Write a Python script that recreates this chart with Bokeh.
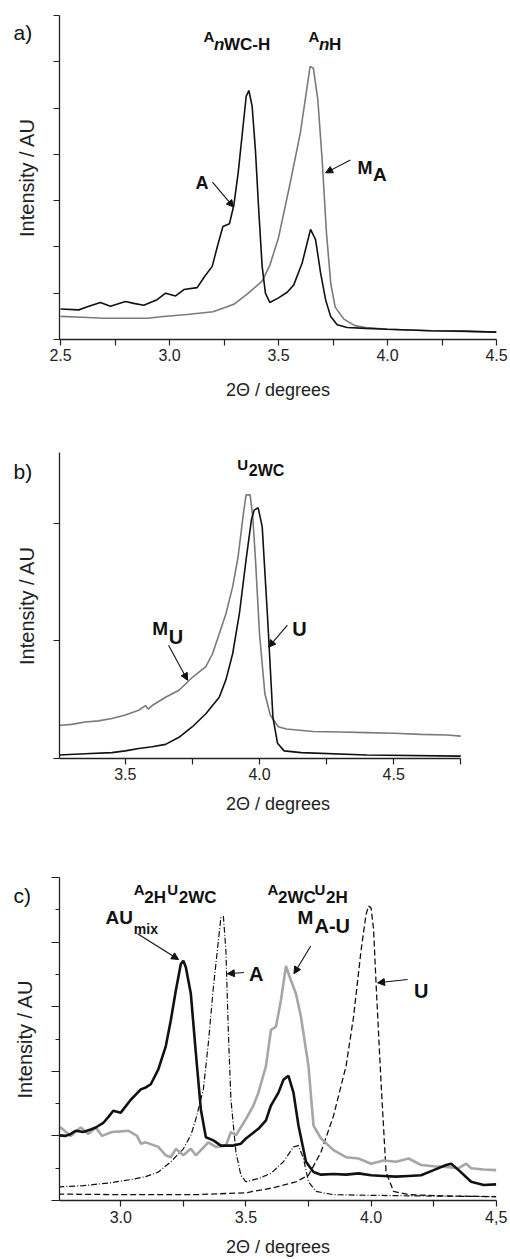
from bokeh.plotting import figure
from bokeh.layouts import column
from bokeh.models import (Label, Arrow, NormalHead, FixedTicker,
                          CustomJSTickFormatter, PrintfTickFormatter, Range1d)
from bokeh.embed import file_html
from bokeh.resources import INLINE

# ---------------- data ----------------
# panel a
a_x_A = [2.500, 2.584, 2.620, 2.683, 2.729, 2.798, 2.836, 2.882, 2.943, 2.982, 3.028, 3.066,
         3.127, 3.161, 3.196, 3.219, 3.245, 3.275, 3.295, 3.315, 3.335, 3.352, 3.364, 3.379,
         3.394, 3.410, 3.425, 3.440, 3.460, 3.500, 3.540, 3.570, 3.609, 3.631, 3.647, 3.670,
         3.693, 3.716, 3.739, 3.769, 3.815, 3.900, 4.000, 4.200, 4.350, 4.500]
a_y_A = [0.33, 0.32, 0.35, 0.40, 0.36, 0.41, 0.39, 0.37, 0.43, 0.50, 0.47, 0.54,
         0.56, 0.68, 0.79, 1.00, 1.22, 1.25, 1.45, 1.80, 2.25, 2.63, 2.69, 2.52,
         2.05, 1.37, 0.79, 0.50, 0.40, 0.45, 0.51, 0.59, 0.83, 1.04, 1.19, 1.08,
         0.72, 0.43, 0.25, 0.16, 0.13, 0.12, 0.11, 0.095, 0.09, 0.08]
a_x_MA = [2.50, 2.60, 2.70, 2.80, 2.90, 2.96, 3.08, 3.20, 3.295, 3.356, 3.425, 3.46, 3.50,
          3.55, 3.60, 3.625, 3.645, 3.66, 3.68, 3.70, 3.72, 3.74, 3.76, 3.80, 3.85, 3.90,
          4.00, 4.20, 4.50]
a_y_MA = [0.25, 0.24, 0.23, 0.23, 0.23, 0.245, 0.27, 0.30, 0.38, 0.49, 0.63, 0.80, 1.10,
          1.65, 2.23, 2.63, 2.95, 2.93, 2.60, 1.95, 1.15, 0.60, 0.35, 0.22, 0.15, 0.13,
          0.11, 0.095, 0.08]

# panel b
b_x_U = [3.25, 3.35, 3.45, 3.50, 3.55, 3.60, 3.65, 3.70, 3.75, 3.80, 3.85, 3.875, 3.90,
         3.925, 3.95, 3.97, 3.98, 3.995, 4.01, 4.03, 4.05, 4.067, 4.092, 4.155, 4.40, 4.75]
b_y_U = [0.03, 0.04, 0.05, 0.065, 0.085, 0.10, 0.12, 0.18, 0.27, 0.38, 0.52, 0.67, 0.89,
         1.23, 1.69, 2.03, 2.11, 2.13, 1.97, 1.20, 0.35, 0.13, 0.065, 0.05, 0.03, 0.02]
b_x_MU = [3.25, 3.30, 3.35, 3.40, 3.45, 3.50, 3.55, 3.575, 3.585, 3.60, 3.65, 3.70, 3.75,
          3.80, 3.825, 3.85, 3.875, 3.90, 3.92, 3.94, 3.95, 3.965, 3.975, 3.985, 4.00,
          4.02, 4.04, 4.07, 4.10, 4.20, 4.30, 4.40, 4.50, 4.60, 4.70, 4.75]
b_y_MU = [0.28, 0.29, 0.31, 0.32, 0.34, 0.37, 0.41, 0.45, 0.42, 0.45, 0.52, 0.58, 0.69,
          0.78, 0.89, 1.06, 1.23, 1.46, 1.71, 2.08, 2.24, 2.24, 2.05, 1.69, 1.06,
          0.55, 0.37, 0.27, 0.25, 0.23, 0.225, 0.22, 0.215, 0.205, 0.20, 0.19]

# panel c
c_x_AUmix = [2.75, 2.78, 2.80, 2.82, 2.85, 2.88, 2.90, 2.93, 2.95, 2.97, 3.00, 3.04, 3.08,
             3.10, 3.12, 3.15, 3.18, 3.20, 3.22, 3.24, 3.25, 3.26, 3.28, 3.30, 3.32, 3.34,
             3.37, 3.40, 3.45, 3.48, 3.50, 3.55, 3.58, 3.60, 3.63, 3.65, 3.67, 3.69, 3.71,
             3.74, 3.77, 3.80, 3.85, 3.90, 3.95, 4.00, 4.05, 4.10, 4.15, 4.20, 4.25, 4.30,
             4.32, 4.35, 4.40, 4.45, 4.50]
c_y_AUmix = [1.01, 1.00, 1.03, 1.08, 1.06, 1.10, 1.13, 1.20, 1.29, 1.39, 1.36, 1.56, 1.72,
             1.75, 1.80, 2.03, 2.39, 2.79, 3.25, 3.66, 3.71, 3.61, 3.20, 2.28, 1.41, 0.98,
             0.93, 0.85, 0.85, 0.88, 0.96, 1.11, 1.24, 1.47, 1.67, 1.87, 1.93, 1.67, 1.16,
             0.60, 0.44, 0.40, 0.41, 0.40, 0.42, 0.39, 0.38, 0.37, 0.38, 0.39, 0.47, 0.55,
             0.57, 0.47, 0.29, 0.24, 0.25]
c_x_MAU = [2.75, 2.76, 2.80, 2.84, 2.87, 2.90, 2.925, 2.965, 3.00, 3.03, 3.065, 3.08, 3.10,
           3.15, 3.18, 3.20, 3.22, 3.25, 3.28, 3.30, 3.35, 3.38, 3.42, 3.44, 3.46, 3.50,
           3.53, 3.55, 3.58, 3.60, 3.62, 3.64, 3.66, 3.675, 3.70, 3.72, 3.75, 3.77, 3.80,
           3.85, 3.90, 3.95, 4.00, 4.05, 4.10, 4.15, 4.20, 4.25, 4.30, 4.35, 4.38, 4.40,
           4.45, 4.50]
c_y_MAU = [1.11, 1.13, 1.00, 1.13, 1.03, 1.13, 1.00, 1.06, 1.07, 1.08, 1.00, 0.88, 0.90,
           0.83, 0.70, 0.67, 0.80, 0.70, 0.80, 0.70, 0.90, 0.83, 0.85, 1.06, 1.01, 1.26,
           1.47, 1.67, 2.08, 2.64, 2.69, 3.10, 3.63, 3.46, 3.20, 2.84, 2.08, 1.16, 0.96,
           0.78, 0.67, 0.65, 0.57, 0.62, 0.60, 0.65, 0.55, 0.53, 0.52, 0.50, 0.57, 0.50,
           0.48, 0.47]
c_x_A = [2.75, 2.85, 2.95, 3.05, 3.10, 3.15, 3.20, 3.25, 3.28, 3.30, 3.33, 3.35, 3.37, 3.39,
         3.40, 3.41, 3.42, 3.43, 3.44, 3.46, 3.48, 3.50, 3.55, 3.60, 3.65, 3.69, 3.71, 3.73,
         3.75, 3.78, 3.85, 4.00, 4.20, 4.50]
c_y_A = [0.21, 0.23, 0.27, 0.33, 0.37, 0.44, 0.60, 0.80, 1.01, 1.26, 1.72, 2.44, 3.30, 4.02,
         4.38, 4.40, 3.87, 2.59, 1.57, 0.75, 0.39, 0.29, 0.34, 0.42, 0.60, 0.83, 0.85, 0.65,
         0.29, 0.14, 0.09, 0.08, 0.07, 0.06]
c_x_U = [2.75, 3.00, 3.30, 3.50, 3.60, 3.70, 3.75, 3.80, 3.85, 3.90, 3.93, 3.96, 3.98, 3.99,
         4.00, 4.01, 4.02, 4.04, 4.06, 4.09, 4.15, 4.30, 4.50]
c_y_U = [0.10, 0.09, 0.09, 0.12, 0.19, 0.29, 0.39, 0.75, 1.31, 2.08, 2.84, 3.87, 4.43, 4.56,
         4.53, 4.20, 3.36, 1.82, 0.44, 0.14, 0.09, 0.07, 0.06]

# axes / ticks
a_xlim = (2.4954, 4.5)
a_ylim = (0, 3.5)
a_xticks = [2.5, 3.0, 3.5, 4.0, 4.5]
a_xminor = [2.75, 3.25, 3.75, 4.25]
a_yticks = [0, 0.5, 1.0, 1.5, 2.0, 2.5, 3.0, 3.5]
b_xlim = (3.2548, 4.883)
b_xbounds = (3.25, 4.75)
b_ylim = (0, 2.6)
b_xticks = [3.5, 4.0, 4.5]
b_xminor = [3.75, 4.25, 4.75]
b_yticks = [0, 1, 2]
c_xlim = (2.7552, 4.5012)
c_ylim = (0, 5)
c_xticks = [3.0, 3.5, 4.0, 4.5]
c_xminor = [3.25, 3.75, 4.25]
c_yticks = [0, 1, 2, 3, 4, 5]
c_yminor = [0.5, 1.5, 2.5, 3.5, 4.5]
c_xlabel_overrides = {4.5: "4,5"}

x_title = "2Θ / degrees"
y_title = "Intensity / AU"

FONT = "Liberation Sans"
AX = "#222222"
TXT = "#111111"


def base(height, xr, yr, bt, bb, xt, xm, yt, ym, lab_stand, title_stand):
    p = figure(width=510, height=height, x_range=Range1d(*xr), y_range=Range1d(*yr),
               output_backend="svg", toolbar_location=None,
               min_border_left=59, min_border_right=14, min_border_top=bt, min_border_bottom=bb)
    p.xgrid.visible = False
    p.ygrid.visible = False
    p.outline_line_color = None
    p.background_fill_color = "white"
    p.border_fill_color = "white"
    p.xaxis.ticker = FixedTicker(ticks=xt, minor_ticks=xm)
    p.yaxis.ticker = FixedTicker(ticks=yt, minor_ticks=ym)
    for ax in (p.xaxis[0], p.yaxis[0]):
        ax.axis_line_color = AX
        ax.axis_line_width = 1.3
        ax.major_tick_line_color = AX
        ax.minor_tick_line_color = AX
        ax.major_tick_line_width = 1.2
        ax.minor_tick_line_width = 1.2
        ax.major_tick_in = 0
        ax.minor_tick_in = 0
        ax.major_tick_out = 6
        ax.minor_tick_out = 6
        ax.major_label_text_font = FONT
        ax.major_label_text_font_size = "16px"
        ax.major_label_text_color = "#222222"
        ax.axis_label_text_font = FONT
        ax.axis_label_text_font_style = "normal"
        ax.axis_label_text_color = "#222222"
    p.xaxis.axis_label = x_title
    p.xaxis.axis_label_text_font_size = "18px"
    p.xaxis.major_label_standoff = lab_stand
    p.xaxis.axis_label_standoff = title_stand
    p.xaxis.formatter = PrintfTickFormatter(format="%.1f")
    p.yaxis.axis_label = y_title
    p.yaxis.axis_label_text_font_size = "20px"
    p.yaxis.formatter = CustomJSTickFormatter(code="return ''")
    p.yaxis.major_label_standoff = 0
    p.yaxis.axis_label_standoff = 16
    return p


def label(p, x, y, parts):
    # parts: (text, dx, dy, size, style)
    for text, dx, dy, size, style in parts:
        p.add_layout(Label(x=x, y=y, x_offset=dx, y_offset=dy, text=text,
                           text_font=FONT, text_font_size=f"{size}px",
                           text_font_style=style, text_color=TXT,
                           text_baseline="alphabetic", text_align="left"))


def panel_letter(p, text, cx, cy, side):
    p.add_layout(Label(x=cx, y=cy, x_units="canvas", y_units="canvas", text=text,
                       text_font=FONT, text_font_size="21px", text_color=TXT,
                       text_baseline="alphabetic", text_align="left"), side)


def arrow(p, x0, y0, x1, y1):
    p.add_layout(Arrow(x_start=x0, y_start=y0, x_end=x1, y_end=y1,
                       line_color=TXT, line_width=1.1,
                       end=NormalHead(size=7, fill_color=TXT, line_color=TXT, line_width=1)))


# ---------------- panel a ----------------
pa = base(425, a_xlim, a_ylim, 15, 85, a_xticks, a_xminor, a_yticks, [], 3, 16)
pa.line(a_x_MA, a_y_MA, line_color="#7a7a7a", line_width=1.6)
pa.line(a_x_A, a_y_A, line_color="#111111", line_width=1.6)
panel_letter(pa, "a)", 13, 32, "below")
label(pa, 3.156, 3.272, [("A", 0, 0, 15, "bold"), ("n", 10.5, -8.3, 17, "bold italic"),
                         ("WC-H", 20.5, -8.3, 17, "bold")])
label(pa, 3.638, 3.272, [("A", 0, 0, 15, "bold"), ("n", 10.5, -8.3, 17, "bold italic"),
                         ("H", 20.5, -8.3, 17, "bold")])
label(pa, 3.119, 1.694, [("A", 0, 0, 18, "bold")])
label(pa, 3.862, 1.855, [("M", 0, 0, 18, "bold"), ("A", 15.5, -7, 19, "bold")])
arrow(pa, 3.197, 1.70, 3.294, 1.43)
arrow(pa, 3.83, 1.94, 3.716, 1.80)

# ---------------- panel b ----------------
pb = base(415, b_xlim, b_ylim, 27, 82, b_xticks, b_xminor, b_yticks, [], 3, 11)
pb.xaxis.bounds = b_xbounds
pb.line(b_x_MU, b_y_MU, line_color="#7a7a7a", line_width=1.6)
pb.line(b_x_U, b_y_U, line_color="#111111", line_width=1.6)
panel_letter(pb, "b)", 13, 46, "above")
label(pb, 3.917, 2.50, [("U", 0, 0, 15, "bold"), ("2WC", 11.5, -6.3, 16, "bold")])
label(pb, 3.600, 1.104, [("M", 0, 0, 19, "bold"), ("U", 16.5, -8.3, 20, "bold")])
label(pb, 4.122, 1.104, [("U", 0, 0, 20, "bold")])
arrow(pb, 3.661, 0.963, 3.732, 0.665)
arrow(pb, 4.104, 1.133, 4.034, 0.946)

# ---------------- panel c ----------------
pc = base(419, c_xlim, c_ylim, 37, 57, c_xticks, c_xminor, c_yticks, c_yminor, 4, 11)
pc.yaxis.major_tick_out = 8
pc.yaxis.minor_tick_out = 4
pc.xaxis.major_label_overrides = c_xlabel_overrides
pc.line(c_x_U, c_y_U, line_color="#111111", line_width=1.3, line_dash="6 3")
pc.line(c_x_A, c_y_A, line_color="#111111", line_width=1.2, line_dash="6 2 1 2")
pc.line(c_x_MAU, c_y_MAU, line_color="#a6a6a6", line_width=2.6)
pc.line(c_x_AUmix, c_y_AUmix, line_color="#111111", line_width=2.6)
panel_letter(pc, "c)", 13, 55, "above")
label(pc, 3.052, 4.81, [("A", 0, 0, 15, "bold"), ("2H", 10.5, -7.7, 17, "bold"),
                        ("U", 33.4, 0, 15, "bold"), ("2WC", 45, -7.7, 17, "bold")])
label(pc, 3.586, 4.81, [("A", 0, 0, 15, "bold"), ("2WC", 10.5, -7.7, 17, "bold"),
                        ("U", 47, 0, 15, "bold"), ("2H", 58.5, -7.7, 17, "bold")])
label(pc, 2.939, 4.376, [("AU", 0, 0, 19, "bold"), ("mix", 28.3, -11.6, 14, "bold")])
label(pc, 3.706, 4.376, [("M", 0, 0, 19, "bold"), ("A-U", 17, -8.3, 20, "bold")])
label(pc, 3.512, 3.51, [("A", 0, 0, 20, "bold")])
label(pc, 4.172, 3.25, [("U", 0, 0, 20, "bold")])
arrow(pc, 3.067, 4.13, 3.231, 3.73)
arrow(pc, 3.492, 3.53, 3.426, 3.51)
arrow(pc, 3.759, 3.94, 3.692, 3.51)
arrow(pc, 4.146, 3.42, 4.026, 3.37)

layout = column(pa, pb, pc)
open("out.html", "w").write(file_html(layout, INLINE))
